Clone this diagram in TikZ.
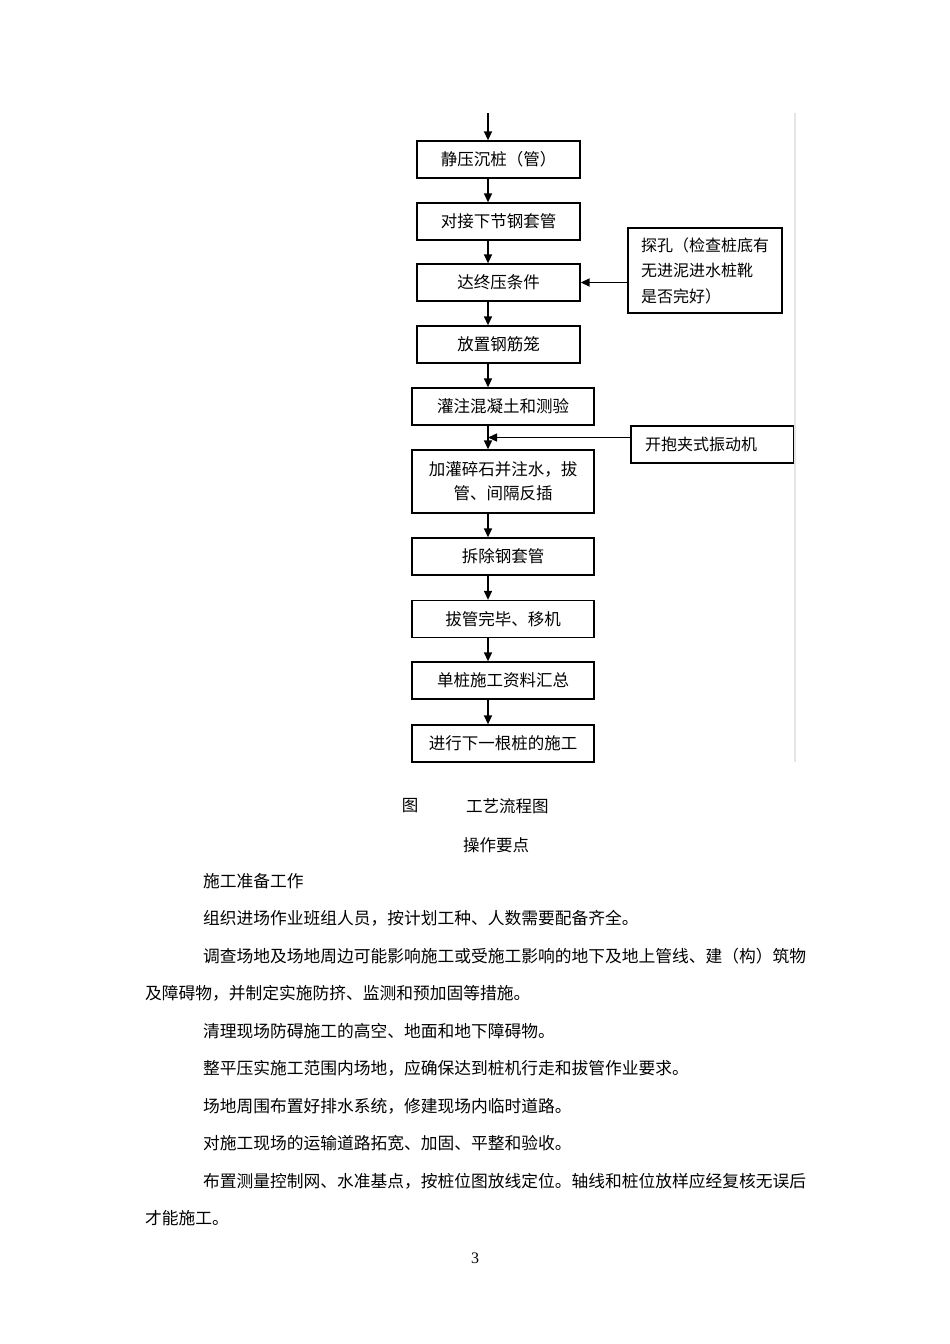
\documentclass[tikz,border=0pt]{standalone}
\usepackage{fontspec}
\setmainfont{Liberation Serif}
\newfontfamily\cjk{Noto Sans CJK SC}
\usetikzlibrary{arrows.meta,calc}
\begin{document}
\begin{tikzpicture}[x=1pt, y=-1pt,
    box/.style={draw, line width=1.3pt, minimum height=37pt, inner sep=0pt, font=\cjk\fontsize{16.5}{24}\selectfont, align=center},
    sidebox/.style={box, align=left, inner xsep=13pt, font=\cjk\fontsize{16}{25.5}\selectfont},
    captxt/.style={inner sep=0pt, font=\cjk\fontsize{16.5}{16.5}\selectfont},
    bodyline/.style={anchor=west, inner sep=0pt, font=\cjk\fontsize{16.75}{16.75}\selectfont},
    arr/.style={line width=1.4pt, -{Triangle[length=9pt, width=8pt]}}]
  \useasboundingbox (0,0) rectangle (950,1344);
      \node (b1) at (498.5,159.5) [box, minimum width=163pt] {静压沉桩（管）};
      \node (b2) at (498.5,221.5) [box, minimum width=163pt] {对接下节钢套管};
      \node (b3) at (498.5,282.5) [box, minimum width=163pt] {达终压条件};
      \node (b4) at (498.5,344.5) [box, minimum width=163pt] {放置钢筋笼};
      \node (b5) at (503,406.5) [box, minimum width=182pt] {灌注混凝土和测验};
      \node (b6) at (503,481.5) [box, minimum width=182pt, minimum height=63pt] {加灌碎石并注水，拔\\管、间隔反插};
      \node (b7) at (503,556.5) [box, minimum width=182pt] {拆除钢套管};
      \node (b8) at (503,619) [box, minimum width=182pt] {拔管完毕、移机};
      \node (b9) at (503,680.5) [box, minimum width=182pt] {单桩施工资料汇总};
      \node (b10) at (503,743.5) [box, minimum width=182pt] {进行下一根桩的施工};
      \node (k1) at (705,270.5) [sidebox, text width=128pt, minimum height=85pt] {探孔（检查桩底有\\无进泥进水桩靴\\是否完好）};
      \node (k2) at (712.5,444.5) [sidebox, text width=135pt, inner xsep=14pt] {开抱夹式振动机};
      \draw[gray!20, line width=2pt] (795,113) -- (795,762);
      \coordinate (top) at (488,113);
      \coordinate (join) at ($(top |- b5.south)!0.5!(top |- b6.north)$);
      \draw[arr] (top) -- (top |- b1.north);
      \foreach \source/\dest in {b1/b2, b2/b3, b3/b4, b4/b5, b5/b6, b6/b7, b7/b8, b8/b9, b9/b10}
        \draw[arr] (top |- \source.south) -- (top |- \dest.north);
      \draw[arr] (k1.west |- b3) -- (b3.east);
      \draw[arr] (k2.west |- join) -- (join);
      % caption and text below
      \node (fig) at (410,806) [captxt] {图};
      \node (title) at (466,806) [captxt, anchor=west] {工艺流程图};
      \node (head) at (463,845) [captxt, anchor=west] {操作要点};
      \node (p1) at (203,881) [bodyline] {施工准备工作};
      \node (p2) at (203,918) [bodyline] {组织进场作业班组人员，按计划工种、人数需要配备齐全。};
      \node (p3) at (203,956) [bodyline] {调查场地及场地周边可能影响施工或受施工影响的地下及地上管线、建（构）筑物};
      \node (p4) at (145,993) [bodyline] {及障碍物，并制定实施防挤、监测和预加固等措施。};
      \node (p5) at (203,1031) [bodyline] {清理现场防碍施工的高空、地面和地下障碍物。};
      \node (p6) at (203,1068) [bodyline] {整平压实施工范围内场地，应确保达到桩机行走和拔管作业要求。};
      \node (p7) at (203,1106) [bodyline] {场地周围布置好排水系统，修建现场内临时道路。};
      \node (p8) at (203,1143) [bodyline] {对施工现场的运输道路拓宽、加固、平整和验收。};
      \node (p9) at (203,1181) [bodyline] {布置测量控制网、水准基点，按桩位图放线定位。轴线和桩位放样应经复核无误后};
      \node (p10) at (145,1218) [bodyline] {才能施工。};
      \node (pg) at (475,1258) [inner sep=0pt, font=\fontsize{16}{16}\selectfont] {3};
\end{tikzpicture}
\end{document}
